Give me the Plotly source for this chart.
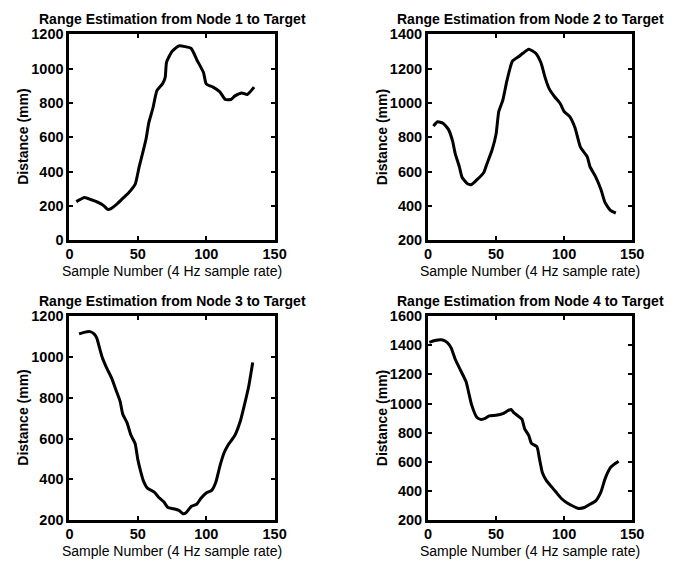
import plotly.graph_objects as go

# Range estimates (mm) from each node to the target, by sample number
node1_x = [5, 11, 16, 21, 25, 28, 30, 34, 39, 43, 48, 51, 54, 56, 58, 61, 64, 68, 70, 71, 75, 80, 89, 93, 98, 100, 105, 110, 114, 118, 121, 126, 130, 135]
node1_y = [225, 249, 236, 221, 202, 180, 183, 206, 244, 274, 325, 429, 524, 590, 684, 769, 873, 911, 949, 1038, 1100, 1132, 1117, 1053, 977, 911, 892, 864, 820, 820, 841, 858, 849, 892]

node2_x = [4, 7, 11, 15, 18, 20, 23, 25, 29, 32, 36, 41, 43, 47, 50, 52, 55, 58, 62, 67, 70, 74, 79, 83, 86, 89, 93, 97, 100, 104, 108, 112, 117, 119, 123, 127, 130, 134, 138]
node2_y = [865, 890, 882, 846, 780, 705, 629, 567, 529, 525, 553, 595, 639, 724, 818, 950, 1017, 1130, 1243, 1272, 1291, 1313, 1291, 1234, 1149, 1083, 1036, 998, 950, 922, 856, 742, 686, 629, 572, 497, 421, 374, 359]

node3_x = [7, 10, 15, 18, 20, 22, 24, 27, 31, 34, 37, 39, 42, 45, 48, 50, 52, 54, 57, 62, 65, 69, 72, 76, 80, 83, 85, 89, 93, 96, 100, 104, 107, 110, 113, 116, 121, 125, 128, 131, 134]
node3_y = [1113, 1119, 1124, 1113, 1092, 1044, 997, 949, 894, 838, 783, 719, 679, 616, 576, 497, 441, 394, 357, 338, 314, 290, 262, 256, 248, 232, 235, 267, 278, 306, 333, 346, 386, 465, 529, 568, 616, 687, 767, 854, 973]

node4_x = [1, 5, 10, 14, 17, 20, 24, 28, 30, 32, 36, 39, 42, 45, 50, 55, 59, 61, 63, 66, 69, 71, 74, 76, 80, 82, 84, 87, 91, 94, 98, 102, 105, 110, 115, 119, 123, 127, 130, 134, 136, 140]
node4_y = [1420, 1433, 1438, 1420, 1382, 1304, 1227, 1149, 1071, 993, 904, 891, 898, 916, 920, 931, 953, 960, 938, 916, 893, 827, 782, 727, 704, 616, 527, 471, 427, 393, 349, 320, 304, 282, 287, 309, 331, 393, 482, 560, 578, 604]

titles = [
    "Range Estimation from Node 1 to Target",
    "Range Estimation from Node 2 to Target",
    "Range Estimation from Node 3 to Target",
    "Range Estimation from Node 4 to Target",
]
y_ranges = [[0, 1200], [200, 1400], [200, 1200], [200, 1600]]
x_range = [0, 150]
x_label = "Sample Number (4 Hz sample rate)"
y_label = "Distance (mm)"

W, H = 694, 570
FONT = "Liberation Sans, Arial, Helvetica, sans-serif"

# panel boxes in pixels: (left, right, top, bottom)
boxes = [(67, 277, 27, 239), (434, 643, 27, 239), (67, 277, 317, 527), (434, 643, 317, 527)]
series = [(node1_x, node1_y), (node2_x, node2_y), (node3_x, node3_y), (node4_x, node4_y)]

fig = go.Figure()
annotations = []
layout = {}

for i, ((l, r, t, b), (xs, ys)) in enumerate(zip(boxes, series)):
    n = "" if i == 0 else str(i + 1)
    xa, ya = "x" + n, "y" + n
    fig.add_trace(go.Scatter(x=xs, y=ys, mode="lines", xaxis=xa, yaxis=ya,
                             line=dict(color="black", width=3, shape="spline", smoothing=0.5),
                             showlegend=False, hoverinfo="skip"))
    common = dict(showline=True, linecolor="black", linewidth=3, mirror="ticks",
                  ticks="inside", ticklen=4, tickwidth=2, tickcolor="black",
                  showgrid=False, zeroline=False,
                  tickfont=dict(family=FONT, size=14.5, color="black", weight="bold"))
    layout["xaxis" + n] = dict(domain=[l / W, r / W], range=x_range, anchor=ya,
                               tickvals=[0, 50, 100, 150], ticklabelstandoff=-2, **common)
    layout["yaxis" + n] = dict(domain=[1 - b / H, 1 - t / H], range=y_ranges[i], anchor=xa,
                               dtick=200, **common)
    cx = (l + r) / 2 / W
    annotations.append(dict(text=titles[i], x=cx, y=1 - (t - 16) / H, xref="paper", yref="paper",
                            xanchor="center", yanchor="middle", showarrow=False,
                            font=dict(family=FONT, size=14, color="black", weight="bold")))
    annotations.append(dict(text=x_label, x=cx, y=1 - (b + 32) / H, xref="paper", yref="paper",
                            xanchor="center", yanchor="middle", showarrow=False,
                            font=dict(family=FONT, size=14, color="black")))
    annotations.append(dict(text=y_label, x=(l - 47) / W, y=1 - (t + b) / 2 / H,
                            xref="paper", yref="paper", xanchor="center", yanchor="middle",
                            textangle=-90, showarrow=False,
                            font=dict(family=FONT, size=14, color="black", weight="bold")))

fig.update_layout(width=W, height=H, margin=dict(l=0, r=0, t=0, b=0),
                  paper_bgcolor="white", plot_bgcolor="white",
                  annotations=annotations, **layout)

fig.write_html("out.html")
